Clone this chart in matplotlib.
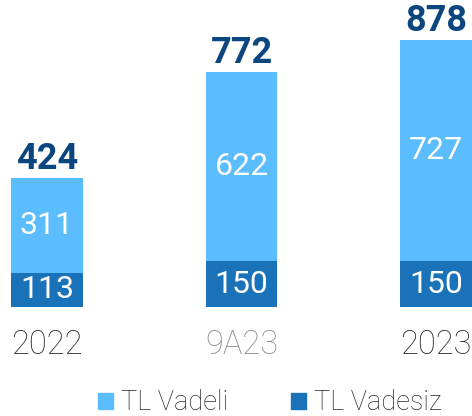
import numpy as np
import matplotlib.pyplot as plt
from matplotlib.patches import Patch

plt.rcParams['font.family'] = ['Roboto', 'DejaVu Sans']

# data
categories = ['2022', '9A23', '2023']
vadesiz = [113, 150, 150]
vadeli = [311, 622, 727]
totals = [424, 772, 878]
cat_colors = ['#2b2b2b', '#8a8a8a', '#2b2b2b']

light = '#5cbdfe'
dark = '#1a72b9'
navy = '#0c467f'

fig = plt.figure(figsize=(4.72, 4.16), dpi=100)
ax = fig.add_axes([0, 109 / 416, 1, 307 / 416])

x = np.arange(len(categories))
w = 0.37
b1 = ax.bar(x, vadesiz, width=w, color=dark)
b2 = ax.bar(x, vadeli, width=w, bottom=vadesiz, color=light)

for i in range(len(x)):
    ax.text(x[i], vadesiz[i] / 2, str(vadesiz[i]), ha='center', va='center',
            color='white', fontsize=23)
    ax.text(x[i], vadesiz[i] + vadeli[i] / 2, str(vadeli[i]), ha='center', va='center',
            color='white', fontsize=23)
    ax.annotate(str(totals[i]), (x[i], totals[i]), xytext=(0, 6.5), textcoords='offset points',
                ha='center', va='baseline', color=navy, fontsize=26, fontweight='bold')

ax.set_xlim(-0.2416, 2.185)
ax.set_ylim(0, 1010)
ax.set_xticks(x)
ax.set_xticklabels(categories, fontsize=23.5, fontweight='light')
for lbl, c in zip(ax.get_xticklabels(), cat_colors):
    lbl.set_color(c)
ax.tick_params(axis='x', length=0, pad=16)
ax.set_yticks([])
for s in ax.spines.values():
    s.set_visible(False)

handles = [Patch(color=light, label='TL Vadeli'), Patch(color=dark, label='TL Vadesiz')]
leg = fig.legend(handles=handles, loc='center', bbox_to_anchor=(0.572, 1 - 403 / 416), ncol=2,
                 frameon=False, fontsize=19.5, handlelength=0.55, handleheight=0.55,
                 handletextpad=0.3, columnspacing=2.3)
for t in leg.get_texts():
    t.set_color('#2b2b2b')
    t.set_fontweight('light')

fig.savefig('out.png', dpi=100)
